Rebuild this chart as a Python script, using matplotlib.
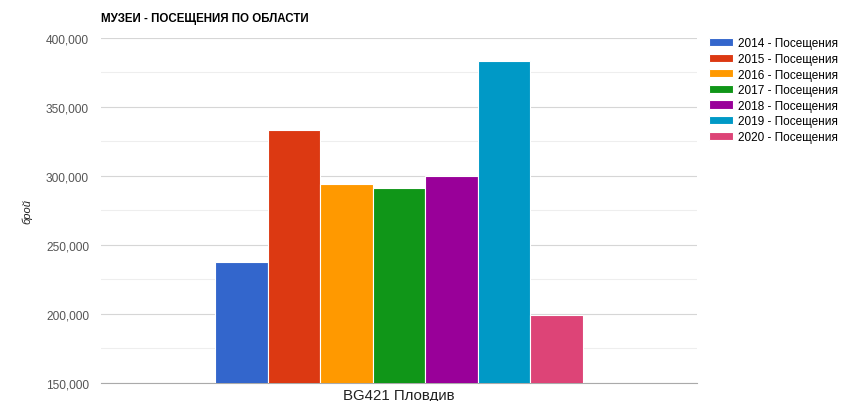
import numpy as np
import matplotlib.pyplot as plt
from matplotlib.ticker import FuncFormatter, MultipleLocator

plt.rcParams['font.family'] = ['Liberation Sans', 'DejaVu Sans']

category = "BG421 Пловдив"
years = ["2014", "2015", "2016", "2017", "2018", "2019", "2020"]
visits = [237300, 332900, 293700, 291300, 299500, 382900, 199000]
colors = ["#3366cc", "#dc3912", "#ff9900", "#109618", "#990099", "#0099c6", "#dd4477"]

fig = plt.figure(figsize=(8.47, 4.02), dpi=100)
ax = fig.add_axes([0.119, 0.045, 0.704, 0.859])

n = len(years)
step = 0.0881
offsets = (np.arange(n) - (n - 1) / 2) * step
for i in range(n):
    ax.bar(offsets[i], visits[i], width=step, color=colors[i],
           edgecolor="white", linewidth=0.8,
           label=years[i] + " - Посещения", zorder=3)

ax.set_xlim(-0.5, 0.5)
ax.set_ylim(150000, 400000)
ax.set_xticks([0])
ax.set_xticklabels([category], fontsize=10.8, color="#222222")
ax.tick_params(axis="x", length=0, pad=4)
ax.yaxis.set_major_locator(MultipleLocator(50000))
ax.yaxis.set_minor_locator(MultipleLocator(25000))
ax.yaxis.set_major_formatter(FuncFormatter(lambda v, p: f"{int(v):,}"))
ax.tick_params(axis="y", which="both", length=0, labelsize=8.6, labelcolor="#555555", pad=8.5)
ax.grid(axis="y", which="major", color="#d6d6d6", linewidth=0.8, zorder=0)
ax.grid(axis="y", which="minor", color="#eeeeee", linewidth=0.8, zorder=0)
for s in ["top", "right", "left"]:
    ax.spines[s].set_visible(False)
ax.spines["bottom"].set_color("#aaaaaa")

ax.set_ylabel("брой", fontsize=8, style="italic", color="#222222", labelpad=10)
fig.text(0.119, 0.938, "МУЗЕИ - ПОСЕЩЕНИЯ ПО ОБЛАСТИ", fontsize=8.3,
         fontweight="bold", color="#000000", va="bottom")

ax.legend(loc="upper left", bbox_to_anchor=(1.0115, 1.014), frameon=False,
          fontsize=8.5, handlelength=2.1, handleheight=0.68, labelspacing=0.3,
          handletextpad=0.42, borderaxespad=0)

fig.savefig("out.png", dpi=100)
